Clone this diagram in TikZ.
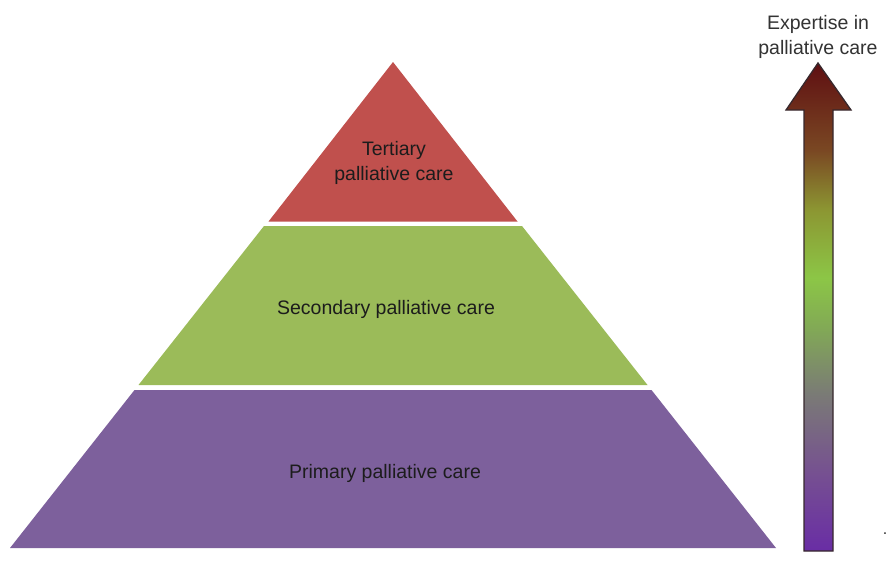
\documentclass[tikz,border=0pt]{standalone}
\usepackage{fontspec}
\setmainfont{Liberation Sans}
\definecolor{tertred}{RGB}{192,80,77}
\definecolor{secgreen}{RGB}{155,187,89}
\definecolor{primpurple}{RGB}{125,96,156}
\definecolor{txt}{RGB}{28,28,28}
\definecolor{arrline}{RGB}{55,40,45}
\definecolor{arrbot}{RGB}{105,45,165}
\definecolor{arrpurp}{RGB}{118,80,145}
\definecolor{arrgray}{RGB}{122,122,118}
\definecolor{arrgreen2}{RGB}{130,170,85}
\definecolor{arrgreen}{RGB}{140,198,70}
\definecolor{arrolive}{RGB}{140,150,50}
\definecolor{arrbrown}{RGB}{122,72,35}
\definecolor{arrtop}{RGB}{95,15,18}
\pgfdeclareverticalshading{expertise}{100bp}{
  color(0bp)=(arrbot);
  color(25bp)=(arrbot);
  color(33bp)=(arrpurp);
  color(41bp)=(arrgray);
  color(48bp)=(arrgreen2);
  color(53bp)=(arrgreen);
  color(60bp)=(arrolive);
  color(66bp)=(arrbrown);
  color(75bp)=(arrtop);
  color(100bp)=(arrtop)}
\tikzset{
  lbl/.style={font=\fontsize{19.5}{24.5}\selectfont, text=txt, align=center, inner sep=0pt},
}
\begin{document}
\begin{tikzpicture}[x=1pt,y=-1pt]
\useasboundingbox (0,0) rectangle (890,563);
\fill[white] (0,0) rectangle (890,563);
% pyramid layers
\fill[tertred] (393,62) -- (517.5,221.5) -- (268.5,221.5) -- cycle;
\fill[secgreen] (264,226) -- (522,226) -- (647.5,385) -- (138.5,385) -- cycle;
\fill[primpurple] (134.5,390) -- (651.5,390) -- (776,548) -- (10,548) -- cycle;
% labels
\node[lbl] (tert) at (394,163) {Tertiary\\palliative care};
\node[lbl] (sec) at (386,309) {Secondary palliative care};
\node[lbl] (prim) at (385,473) {Primary palliative care};
% arrow
\shade[shading=expertise, draw=arrline, line width=1.3pt, line join=miter]
  (804,551) -- (804,110) -- (786,110) -- (818,63) -- (851,110) -- (833,110) -- (833,551) -- cycle;
\node[lbl, text=black!80] (expert) at (818,37) {Expertise in\\palliative care};
\node[font=\fontsize{16}{18}\selectfont, inner sep=0pt, text=black!80] (dot) at (885,534) {.};
\end{tikzpicture}
\end{document}
